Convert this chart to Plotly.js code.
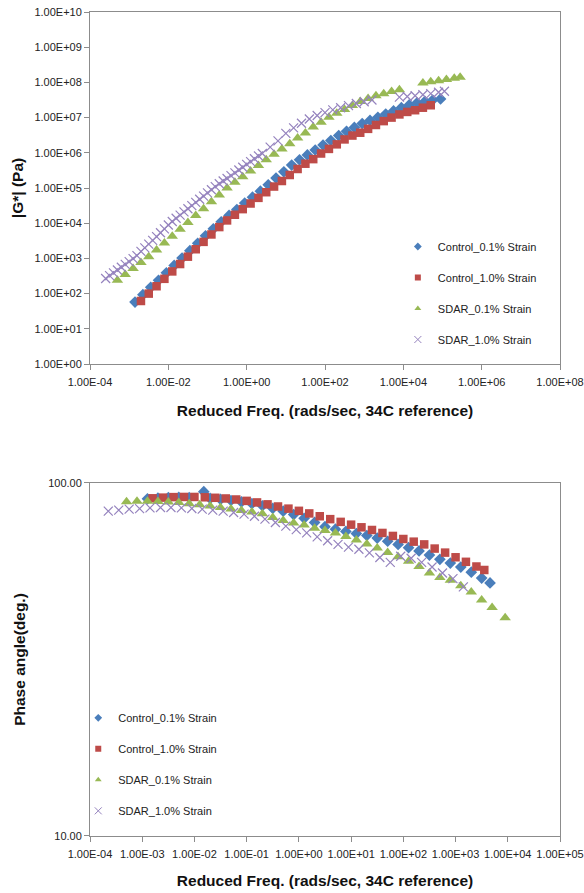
<!DOCTYPE html>
<html>
<head>
<meta charset="utf-8">
<script src="https://cdn.plot.ly/plotly-3.0.1.min.js"></script>
<style>
html,body{margin:0;padding:0;background:#fff;}
#chart{width:584px;height:893px;}
</style>
</head>
<body>
<div id="chart"></div>
<script>
// ---------- Top chart: |G*| master curves ----------
const seriesNames = ['Control_0.1% Strain', 'Control_1.0% Strain', 'SDAR_0.1% Strain', 'SDAR_1.0% Strain'];

const ctl01_freq = [1.41e-3,2.24e-3,3.55e-3,5.62e-3,8.91e-3,1.41e-2,2.24e-2,3.55e-2,5.62e-2,8.91e-2,0.141,0.224,0.355,0.562,0.891,1.41,2.24,3.55,5.62,8.91,14.1,22.4,35.5,56.2,89.1,141,224,355,562,891,1410,2240,3550,5620,8910,1.41e4,2.24e4,3.55e4,5.62e4,8.91e4];
const ctl01_G = [57.5,93,151,240,389,631,1023,1660,2690,4370,6920,1.10e4,1.66e4,2.45e4,3.72e4,5.50e4,8.13e4,1.23e5,1.91e5,2.88e5,4.47e5,6.31e5,8.71e5,1.20e6,1.66e6,2.24e6,3.09e6,4.07e6,5.25e6,6.76e6,8.32e6,1.02e7,1.26e7,1.55e7,1.91e7,2.29e7,2.63e7,2.88e7,3.16e7,3.39e7];

const ctl10_freq = [2.00e-3,3.16e-3,5.01e-3,7.94e-3,1.26e-2,2.00e-2,3.16e-2,5.01e-2,7.94e-2,0.126,0.200,0.316,0.501,0.794,1.26,2.00,3.16,5.01,7.94,12.6,20.0,31.6,50.1,79.4,126,200,316,501,794,1260,2000,3160,5010,7940,1.26e4,2.00e4,3.16e4,5.01e4];
const ctl10_G = [61.7,100,162,263,427,692,1120,1820,2950,4790,7760,1.20e4,1.74e4,2.51e4,3.63e4,5.25e4,7.59e4,1.10e5,1.58e5,2.34e5,3.47e5,4.90e5,6.61e5,9.55e5,1.29e6,1.74e6,2.40e6,3.09e6,3.72e6,4.79e6,6.17e6,7.94e6,1.00e7,1.23e7,1.45e7,1.62e7,1.91e7,2.24e7];

const sdar01_freq = [5.01e-4,7.94e-4,1.26e-3,2.00e-3,3.16e-3,5.01e-3,7.94e-3,1.26e-2,2.00e-2,3.16e-2,5.01e-2,7.94e-2,0.126,0.200,0.316,0.501,0.794,1.26,2.00,3.16,5.01,7.94,12.6,20.0,31.6,50.1,79.4,126,200,316,501,794,1260,2000,3160,5010,7940,3.16e4,5.01e4,7.94e4,1.26e5,2.00e5,2.82e5];
const sdar01_G = [240,347,513,759,1120,1740,2750,4270,6760,1.05e4,1.66e4,2.57e4,4.07e4,6.31e4,1.00e5,1.45e5,2.09e5,3.02e5,4.37e5,6.31e5,9.12e5,1.29e6,1.82e6,2.63e6,3.63e6,5.37e6,7.41e6,1.02e7,1.32e7,1.70e7,2.19e7,2.88e7,3.47e7,4.17e7,4.79e7,5.50e7,6.17e7,9.55e7,1.05e8,1.12e8,1.20e8,1.32e8,1.41e8];

const sdar10_freq = [2.51e-4,3.16e-4,3.98e-4,5.01e-4,6.31e-4,7.94e-4,1.00e-3,1.26e-3,1.58e-3,2.00e-3,2.51e-3,3.16e-3,3.98e-3,5.01e-3,6.31e-3,7.94e-3,1.00e-2,1.26e-2,1.58e-2,2.00e-2,2.51e-2,3.16e-2,3.98e-2,5.01e-2,6.31e-2,7.94e-2,0.100,0.126,0.158,0.200,0.251,0.316,0.398,0.501,0.631,0.794,1.00,1.26,1.58,2.00,2.51,3.98,6.31,10.0,15.8,25.1,39.8,63.1,100,158,251,398,631,1000,1580,7940,1.26e4,2.00e4,3.16e4,5.01e4,7.94e4,1.12e5];
const sdar10_G = [269,324,389,468,562,676,813,987,1200,1580,2000,2550,3240,4170,5370,6920,8910,1.12e4,1.38e4,1.70e4,2.09e4,2.57e4,3.16e4,3.89e4,4.79e4,5.89e4,7.24e4,8.91e4,1.10e5,1.32e5,1.58e5,1.86e5,2.24e5,2.69e5,3.24e5,3.89e5,4.68e5,5.62e5,6.76e5,8.13e5,9.55e5,1.45e6,2.19e6,3.55e6,5.13e6,6.92e6,9.12e6,1.15e7,1.38e7,1.66e7,1.91e7,2.19e7,2.51e7,2.82e7,3.16e7,3.80e7,3.98e7,4.17e7,4.47e7,4.79e7,5.25e7,5.62e7];

// ---------- Bottom chart: phase angle ----------
const ph_ctl01_freq = [1.26e-3,2.00e-3,3.16e-3,5.01e-3,7.94e-3,1.51e-2,2.00e-2,3.16e-2,5.01e-2,7.94e-2,0.126,0.200,0.316,0.501,0.794,1.26,2.00,3.16,5.01,7.94,12.6,20.0,31.6,50.1,79.4,126,200,316,501,794,1260,2000,3160,4570];
const ph_ctl01_deg = [90.2,90.6,90.9,91.0,90.9,94.5,90.4,89.9,89.2,88.4,87.4,86.2,84.8,83.2,81.4,79.4,77.3,75.2,74.0,72.9,71.9,71.0,69.8,68.4,67.0,65.6,64.2,62.5,60.8,59.3,57.8,55.9,53.8,52.1];

const ph_ctl10_freq = [1.58e-3,2.51e-3,3.98e-3,6.31e-3,1.00e-2,1.58e-2,2.51e-2,3.98e-2,6.31e-2,0.100,0.158,0.251,0.398,0.631,1.00,1.58,2.51,3.98,6.31,10.0,15.8,25.1,39.8,63.1,100,158,251,398,631,1000,1580,2510,3550];
const ph_ctl10_deg = [90.5,90.9,91.2,91.3,91.3,91.1,90.8,90.4,89.8,89.0,88.1,87.0,85.8,84.6,83.4,82.0,80.5,79.0,77.6,76.2,74.9,73.6,72.2,70.8,69.4,68.2,67.0,65.2,63.5,61.6,59.8,58.0,56.7];

const ph_sdar01_freq = [5.01e-4,7.94e-4,1.26e-3,2.00e-3,3.16e-3,5.01e-3,7.94e-3,1.26e-2,2.00e-2,3.16e-2,5.01e-2,7.94e-2,0.126,0.200,0.316,0.501,0.794,1.26,2.00,3.16,5.01,7.94,12.6,20.0,31.6,50.1,79.4,126,200,316,501,794,1260,2000,3160,5010,8910];
const ph_sdar01_deg = [88.5,88.8,88.8,88.6,88.3,88.0,87.4,86.8,86.0,85.2,84.4,83.6,82.8,81.8,79.8,78.3,77.0,76.0,74.5,73.4,72.2,70.5,69.0,67.2,65.4,63.6,61.8,60.0,58.0,55.6,54.0,53.0,51.2,49.1,46.6,44.4,41.5];

const ph_sdar10_freq = [2.24e-4,3.55e-4,5.62e-4,8.91e-4,1.41e-3,2.24e-3,3.55e-3,5.62e-3,8.91e-3,1.41e-2,2.24e-2,3.55e-2,5.62e-2,8.91e-2,0.141,0.224,0.355,0.562,0.891,1.41,2.24,3.55,5.62,8.91,14.1,22.4,35.5,56.2,89.1,141,224,355,562,891,1410];
const ph_sdar10_deg = [83.2,83.8,84.3,84.6,85.0,85.2,85.2,85.0,84.7,84.3,83.8,83.2,82.5,81.6,80.5,79.0,77.3,75.5,73.8,72.2,70.4,68.6,67.0,65.8,64.9,63.4,61.5,59.6,62.0,61.2,59.6,57.8,55.6,53.6,50.8];

// ---------- Axis ticks ----------
const topXTickVals = [1e-4,1e-2,1,1e2,1e4,1e6,1e8];
const topXTickText = ['1.00E-04','1.00E-02','1.00E+00','1.00E+02','1.00E+04','1.00E+06','1.00E+08'];
const topYTickVals = [1,10,100,1e3,1e4,1e5,1e6,1e7,1e8,1e9,1e10];
const topYTickText = ['1.00E+00','1.00E+01','1.00E+02','1.00E+03','1.00E+04','1.00E+05','1.00E+06','1.00E+07','1.00E+08','1.00E+09','1.00E+10'];
const botXTickVals = [1e-4,1e-3,1e-2,1e-1,1,10,100,1e3,1e4,1e5];
const botXTickText = ['1.00E-04','1.00E-03','1.00E-02','1.00E-01','1.00E+00','1.00E+01','1.00E+02','1.00E+03','1.00E+04','1.00E+05'];
const botYTickVals = [10,100];
const botYTickText = ['10.00','100.00'];

const xTitle = 'Reduced Freq. (rads/sec, 34C reference)';
const gTitle = '|G*| (Pa)';
const phTitle = 'Phase angle(deg.)';

// ---------- Styles ----------
const FONT = 'Liberation Sans, Arial, sans-serif';
const blue = '#4A7EBB', red = '#BE4B48', green = '#98B954', purple = '#9583BE';
const mk = [
  {symbol:'diamond', size:9, color:blue},
  {symbol:'square', size:8.5, color:red},
  {symbol:'triangle-up', size:10, color:green},
  {symbol:'x-thin', size:9, color:purple, line:{color:purple, width:1.2}}
];
const legMk = [
  {symbol:'diamond', size:6, color:blue},
  {symbol:'square', size:6, color:red},
  {symbol:'triangle-up', size:6, color:green},
  {symbol:'x-thin', size:7, color:purple, line:{color:purple, width:1}}
];

const topData = [[ctl01_freq,ctl01_G],[ctl10_freq,ctl10_G],[sdar01_freq,sdar01_G],[sdar10_freq,sdar10_G]];
const botData = [[ph_ctl01_freq,ph_ctl01_deg],[ph_ctl10_freq,ph_ctl10_deg],[ph_sdar01_freq,ph_sdar01_deg],[ph_sdar10_freq,ph_sdar10_deg]];

const traces = [];
topData.forEach((d,i)=>{
  traces.push({x:d[0], y:d[1], type:'scatter', mode:'markers', name:seriesNames[i],
    marker:mk[i], xaxis:'x', yaxis:'y', showlegend:false});
});
botData.forEach((d,i)=>{
  traces.push({x:d[0], y:d[1], type:'scatter', mode:'markers', name:seriesNames[i],
    marker:mk[i], xaxis:'x2', yaxis:'y2', showlegend:false});
});
// legend entries (small symbols, as in the original)
seriesNames.forEach((n,i)=>{
  traces.push({x:[null], y:[null], type:'scatter', mode:'markers', name:n,
    marker:legMk[i], xaxis:'x', yaxis:'y', legend:'legend', legendgroup:'t'+i, showlegend:true});
});
seriesNames.forEach((n,i)=>{
  traces.push({x:[null], y:[null], type:'scatter', mode:'markers', name:n,
    marker:legMk[i], xaxis:'x2', yaxis:'y2', legend:'legend2', legendgroup:'b'+i, showlegend:true});
});

const axisCommon = {
  type:'log', showgrid:false, zeroline:false, showline:true, mirror:true,
  linecolor:'#8c8c8c', linewidth:1, ticks:'outside', ticklen:5, tickcolor:'#8c8c8c',
  tickfont:{family:FONT, size:11, color:'#222'}, tickmode:'array'
};
const titleFont = {family:FONT, size:15.5, color:'#111', weight:'bold'};

const layout = {
  width:584, height:893,
  margin:{l:90, r:24, t:12, b:57},
  paper_bgcolor:'#fff', plot_bgcolor:'#fff',
  showlegend:true,
  xaxis: Object.assign({}, axisCommon, {domain:[0,1], range:[-4,8], anchor:'y',
    tickvals:topXTickVals, ticktext:topXTickText, ticklabelstandoff:3,
    title:{text:xTitle, font:titleFont, standoff:17}}),
  yaxis: Object.assign({}, axisCommon, {domain:[0.5728,1], range:[0,10], anchor:'x',
    tickvals:topYTickVals, ticktext:topYTickText,
    title:{text:gTitle, font:titleFont, standoff:6}}),
  xaxis2: Object.assign({}, axisCommon, {domain:[0,1], range:[-4,5], anchor:'y2',
    tickvals:botXTickVals, ticktext:botXTickText, ticklabelstandoff:3,
    title:{text:xTitle, font:titleFont, standoff:15}}),
  yaxis2: Object.assign({}, axisCommon, {domain:[0,0.4284], range:[1,2], anchor:'x2',
    tickvals:botYTickVals, ticktext:botYTickText,
    title:{text:phTitle, font:titleFont, standoff:18}}),
  legend:{x:0.655, y:0.733, xanchor:'left', yanchor:'top', bgcolor:'rgba(0,0,0,0)',
    font:{family:FONT, size:11, color:'#222'}, traceorder:'grouped', tracegroupgap:12},
  legend2:{x:-0.025, y:0.161, xanchor:'left', yanchor:'top', bgcolor:'rgba(0,0,0,0)',
    font:{family:FONT, size:11, color:'#222'}, traceorder:'grouped', tracegroupgap:12}
};

Plotly.newPlot('chart', traces, layout, {displayModeBar:false, staticPlot:true});
</script>
</body>
</html>
